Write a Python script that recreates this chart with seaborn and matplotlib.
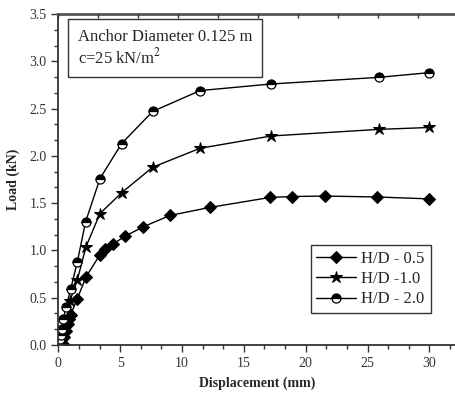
import matplotlib
matplotlib.use("Agg")
import matplotlib.pyplot as plt
import seaborn as sns
import numpy as np
from matplotlib.ticker import MultipleLocator, AutoMinorLocator

# Data
hd05_x = [0.45, 0.5, 0.6, 0.75, 0.85, 1.0, 1.54, 2.24, 3.37, 3.78, 4.45, 5.39, 6.87, 9.03, 12.26, 17.1, 18.9, 21.6, 25.8, 30.0]
hd05_y = [0.0, 0.08, 0.15, 0.22, 0.27, 0.32, 0.49, 0.72, 0.955, 1.01, 1.07, 1.15, 1.25, 1.37, 1.455, 1.56, 1.57, 1.575, 1.565, 1.545]

hd10_x = [0.3, 0.4, 0.5, 0.6, 0.75, 0.95, 1.54, 2.24, 3.37, 5.12, 7.63, 11.46, 17.2, 25.9, 30.0]
hd10_y = [0.0, 0.07, 0.15, 0.22, 0.3, 0.47, 0.69, 1.04, 1.39, 1.61, 1.88, 2.08, 2.21, 2.28, 2.30]

hd20_x = [0.14, 0.14, 0.19, 0.27, 0.4, 0.62, 1.0, 1.54, 2.2, 3.37, 5.12, 7.63, 11.46, 17.2, 25.9, 30.0]
hd20_y = [0.01, 0.06, 0.11, 0.17, 0.27, 0.40, 0.59, 0.88, 1.30, 1.76, 2.13, 2.47, 2.69, 2.76, 2.83, 2.88]

labels = ["H/D - 0.5", "H/D -1.0", "H/D - 2.0"]

sns.set_style("ticks")
plt.rcParams['font.family'] = ['Liberation Serif', 'DejaVu Serif']
plt.rcParams['mathtext.fontset'] = 'stix'

fig = plt.figure(figsize=(4.56, 3.98), dpi=100)
ax = fig.add_axes([58.3/456, 53/398, (456-58.3)/456, 331/398])

sns.lineplot(x=hd05_x, y=hd05_y, ax=ax, estimator=None, sort=False, color='black', lw=1.0,
             marker='D', markersize=6.3, markerfacecolor='black', markeredgecolor='black',
             label=labels[0])
sns.lineplot(x=hd10_x, y=hd10_y, ax=ax, estimator=None, sort=False, color='black', lw=1.0,
             marker='*', markersize=9, markerfacecolor='black', markeredgecolor='black',
             label=labels[1])
sns.lineplot(x=hd20_x, y=hd20_y, ax=ax, estimator=None, sort=False, color='black', lw=1.0,
             marker='o', markersize=6.5, fillstyle='top', markerfacecolor='black',
             markerfacecoloralt='white', markeredgecolor='black', markeredgewidth=0.9,
             label=labels[2])

ax.set_xlim(0, 32.15)
ax.set_ylim(0, 3.5)
ax.xaxis.set_major_locator(MultipleLocator(5))
ax.xaxis.set_minor_locator(AutoMinorLocator(3))
ax.yaxis.set_major_locator(MultipleLocator(0.5))
ax.yaxis.set_minor_locator(AutoMinorLocator(3))
ax.tick_params(which='major', direction='out', length=5, width=1, labelsize=10, colors='#333333')
ax.tick_params(which='minor', direction='out', length=3, width=1, colors='#333333')
ax.set_xticks([0, 5, 10, 15, 20, 25, 30])
ax.set_yticks(np.arange(0, 3.51, 0.5))
ax.set_yticklabels([f"{v:.1f}" for v in np.arange(0, 3.51, 0.5)])

for s in ['left', 'bottom', 'top']:
    ax.spines[s].set_color('#333333')
    ax.spines[s].set_linewidth(1.3)
ax.spines['top'].set_linewidth(2.0)
ax.spines['top'].set_color('#555555')
ax.spines['right'].set_visible(False)

twin = ax.twiny()
twin.set_xlim(0, 9.94)
twin.set_xticks(range(0, 10))
twin.tick_params(axis='x', direction='in', length=3, width=1, labeltop=False, colors='#333333')
for s in twin.spines.values():
    s.set_visible(False)

ax.set_xlabel("Displacement (mm)", fontsize=10, fontweight='bold', labelpad=5)
ax.set_ylabel("Load (kN)", fontsize=10, fontweight='bold', labelpad=7)

ax.text(0.0495, 0.955, "Anchor Diameter 0.125 m\nc=25 kN/m$^2$", transform=ax.transAxes,
        ha='left', va='top', fontsize=12, linespacing=1.15,
        bbox=dict(boxstyle='square,pad=0.6', facecolor='white', edgecolor='#333333', linewidth=1))

leg = ax.legend(loc='lower right', bbox_to_anchor=(0.936, 0.096), borderaxespad=0,
                fontsize=12, frameon=True, fancybox=False, edgecolor='black',
                handlelength=2.4, handletextpad=0.3, borderpad=0.35, labelspacing=0.25,
                markerfirst=True)
leg.get_frame().set_linewidth(1.0)
for t in leg.get_texts():
    t.set_ha('right')

fig.savefig("out.png", dpi=100)
